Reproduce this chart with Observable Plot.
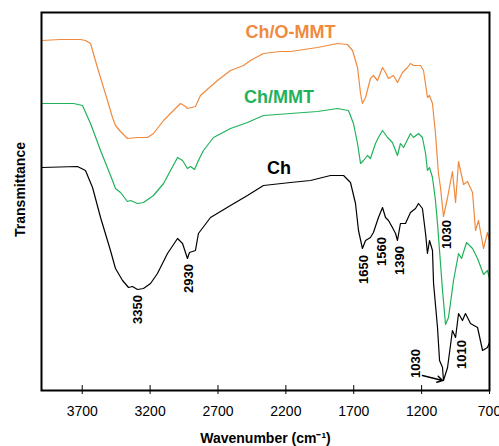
<!DOCTYPE html>
<html>
<head>
<meta charset="utf-8">
<script src="https://cdn.jsdelivr.net/npm/d3@7"></script>
<script src="https://cdn.jsdelivr.net/npm/@observablehq/plot@0.6"></script>
<style>
  html, body { margin: 0; padding: 0; background: white; }
  #chart svg { display: block; }
</style>
</head>
<body>
<div id="chart"></div>
<script>
// ---- Data (wavenumber in cm-1, transmittance in arbitrary offset units) ----
const xTicks = [3700, 3200, 2700, 2200, 1700, 1200, 700];

const omWave = [4000,3860,3713,3676,3639,3588,3514,3477,3455,3418,3367,3293,3219,3175,3101,3028,2976,2939,2925,2866,2829,2755,2704,2608,2512,2461,2365,2240,2166,1967,1820,1746,1709,1672,1650,1636,1613,1577,1555,1525,1488,1466,1444,1407,1378,1341,1304,1282,1260,1208,1186,1157,1142,1120,1098,1076,1061,1039,1009,973,950,928,891,862,825,803,781,744,715,700];
const omT    = [350,351,351,350,347,323,290,273,265,259,252,253,253,257,270,280,287,284,282,284,295,304,310,320,325,330,337,339,339,343,347,346,340,323,297,287,293,312,315,310,323,318,312,315,308,318,323,327,325,325,320,293,295,287,257,217,203,174,193,219,188,229,206,209,198,160,170,142,158,150];

const mWave = [4000,3764,3698,3639,3565,3477,3455,3418,3367,3344,3293,3249,3175,3101,2998,2961,2925,2902,2873,2844,2807,2733,2608,2483,2365,2166,1967,1820,1739,1702,1672,1650,1628,1599,1577,1540,1518,1488,1451,1415,1378,1356,1333,1282,1260,1223,1194,1171,1157,1142,1120,1098,1083,1046,1024,1002,965,928,906,869,825,788,744,715,700];
const mT    = [287,287,285,267,240,210,202,198,189,190,187,188,195,207,233,230,222,224,221,230,240,253,262,268,275,277,279,282,280,267,247,227,230,235,232,247,253,260,253,248,235,247,243,257,253,257,253,237,220,223,213,190,167,100,66,73,110,137,132,148,142,132,116,120,112];

const chWave = [4000,3735,3676,3624,3565,3492,3455,3403,3359,3330,3293,3249,3197,3146,3072,2998,2961,2925,2910,2888,2866,2844,2755,2608,2483,2365,2166,2019,1871,1775,1724,1687,1665,1636,1613,1577,1555,1518,1488,1466,1444,1415,1392,1378,1356,1319,1282,1245,1223,1194,1171,1157,1142,1120,1112,1083,1068,1046,1039,1009,973,950,928,899,877,840,788,751,715,700];
const chT    = [223,224,220,203,173,140,122,110,103,104,101,102,107,117,137,152,147,132,138,139,140,157,173,185,195,205,208,210,215,215,208,187,160,142,150,153,158,173,183,173,170,163,157,150,167,167,178,182,187,182,157,137,150,140,107,63,30,23,10,23,60,53,77,70,77,67,63,40,43,48];

const seriesNames  = ["Ch/O-MMT", "Ch/MMT", "Ch"];
const seriesColors = ["#F08A3E", "#1FB25A", "#000000"];

// peak annotations: label, anchor wavenumber, anchor transmittance
const peakLabels = ["3350", "2930", "1650", "1560", "1390", "1030", "1030", "1010"];
const peakWave   = [3293, 2917, 1628, 1496, 1363, 1017, 1245, 906];
const peakT      = [81, 112, 121, 139, 130, 156, 27, 36];

// series name labels
const nameWave = [2166, 2251, 2251];
const nameT    = [353, 288, 217];

// ---- build table ----
const rows = [];
[[omWave, omT], [mWave, mT], [chWave, chT]].forEach(([w, t], s) => {
  w.forEach((v, i) => rows.push({series: seriesNames[s], wave: v, t: t[i]}));
});
const peaks = peakLabels.map((l, i) => ({label: l, wave: peakWave[i], t: peakT[i]}));
const names = seriesNames.map((n, i) => ({name: n, wave: nameWave[i], t: nameT[i], color: seriesColors[i]}));

const chart = Plot.plot({
  width: 499,
  height: 446,
  marginLeft: 41,
  marginRight: 10,
  marginTop: 12,
  marginBottom: 56,
  style: {fontFamily: "'Liberation Sans', Arial, sans-serif", fontSize: "14px", color: "black", background: "white", overflow: "hidden"},
  x: {domain: [4000, 700], label: null},
  y: {domain: [0, 378], axis: null},
  color: {domain: seriesNames, range: seriesColors},
  marks: [
    Plot.line(rows, {x: "wave", y: "t", z: "series", stroke: "series", strokeWidth: 1.2}),
    Plot.axisX({ticks: xTicks, tickFormat: d => String(d), tickSize: 9, dy: -5, tickPadding: 12, fontSize: 14, label: null}),
    Plot.text(names, {x: "wave", y: "t", text: "name", fill: "color", fontWeight: "bold", fontSize: 18, textAnchor: "middle", lineAnchor: "bottom"}),
    Plot.text(peaks, {x: "wave", y: "t", text: "label", rotate: -90, fontWeight: "bold", fontSize: 13, textAnchor: "middle", lineAnchor: "middle", fill: "black"}),
    Plot.arrow([{x1: 1194, y1: 15, x2: 1046, y2: 10}], {x1: "x1", y1: "y1", x2: "x2", y2: "y2", stroke: "black", strokeWidth: 1.5, headLength: 6}),
    Plot.text(["Transmittance"], {frameAnchor: "left", dx: -21, dy: -12, rotate: -90, fontWeight: "bold", fontSize: 14, textAnchor: "middle", lineAnchor: "middle"}),
    Plot.text(["Wavenumber (cm\u207B\u00B9)"], {frameAnchor: "bottom", dy: 48, fontWeight: "bold", fontSize: 14, textAnchor: "middle", lineAnchor: "middle"}),
    Plot.frame({stroke: "black", strokeWidth: 2})
  ]
});
document.getElementById("chart").appendChild(chart);
</script>
</body>
</html>
